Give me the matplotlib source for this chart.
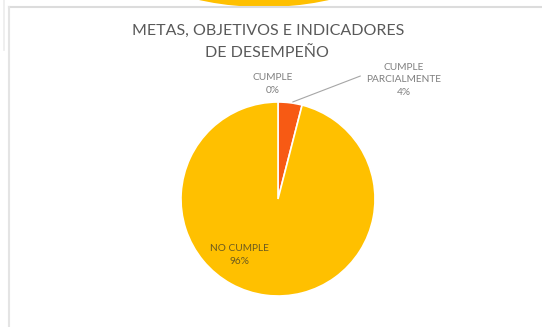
import matplotlib.pyplot as plt
from matplotlib.patches import Ellipse

# chart data
categories = ["CUMPLE", "CUMPLE\nPARCIALMENTE", "NO CUMPLE"]
percentages = [0, 4, 96]
slice_colors = ["#5B9BD5", "#F75A14", "#FFC000"]

title_lines = ["METAS, OBJETIVOS E INDICADORES", "DE DESEMPEÑO"]

W, H = 542, 327
plt.rcParams['font.family'] = ['Lato', 'DejaVu Sans']

fig = plt.figure(figsize=(W / 100, H / 100), dpi=100)

# background layer in pixel units (origin top left)
bg = fig.add_axes([0, 0, 1, 1])
bg.set_xlim(0, W)
bg.set_ylim(H, 0)
bg.axis("off")
# bottom of the chart above, peeking in at the top
bg.add_patch(Ellipse((264, -63), 298, 140, facecolor="#FFC000", edgecolor="none"))
# window frame around the chart
bg.plot([9, W], [7, 7], color="#dcdcdc", lw=1.5)
bg.plot([9, 9], [7, H], color="#e4e4e4", lw=1.5)
bg.plot([4, 4], [0, 50], color="#ececec", lw=1.2)

# pie: centre (278, 199), radius 97 px
cx, cy, r = 278, 199, 97
ax = fig.add_axes([(cx - r) / W, (H - cy - r) / H, 2 * r / W, 2 * r / H])
wedges, _ = ax.pie(percentages, colors=slice_colors, startangle=90, counterclock=False,
                   wedgeprops=dict(edgecolor="white", linewidth=1.2))
ax.set_xlim(-1, 1)
ax.set_ylim(-1, 1)
ax.set_aspect("equal")
ax.axis("off")

# title
bg.text(268, 31, title_lines[0], ha="center", va="center", fontsize=11.5, color="#595959")
bg.text(267, 53, title_lines[1], ha="center", va="center", fontsize=11.5, color="#595959")

# data labels
lbl = [f"{c}\n{p}%" for c, p in zip(categories, percentages)]
bg.text(273, 84, lbl[0], ha="center", va="center", fontsize=7.3,
        color="#7f7f7f", linespacing=1.5)
bg.text(404, 80, lbl[1], ha="center", va="center", fontsize=7.3,
        color="#7f7f7f", linespacing=1.5)
# inside label sits on top of the pie
fig.text(239 / W, 1 - 255 / H, lbl[2], ha="center", va="center", fontsize=7.3,
         color="#6b5a20", linespacing=1.5, zorder=5)

# leader line to the CUMPLE PARCIALMENTE slice
ax.annotate("", xy=(0.125, 0.99), xycoords="data",
            xytext=(363 / W, 1 - 75 / H), textcoords="figure fraction",
            arrowprops=dict(arrowstyle="-", color="#a6a6a6", lw=0.8))

fig.savefig("out.png", dpi=100, facecolor="white")
